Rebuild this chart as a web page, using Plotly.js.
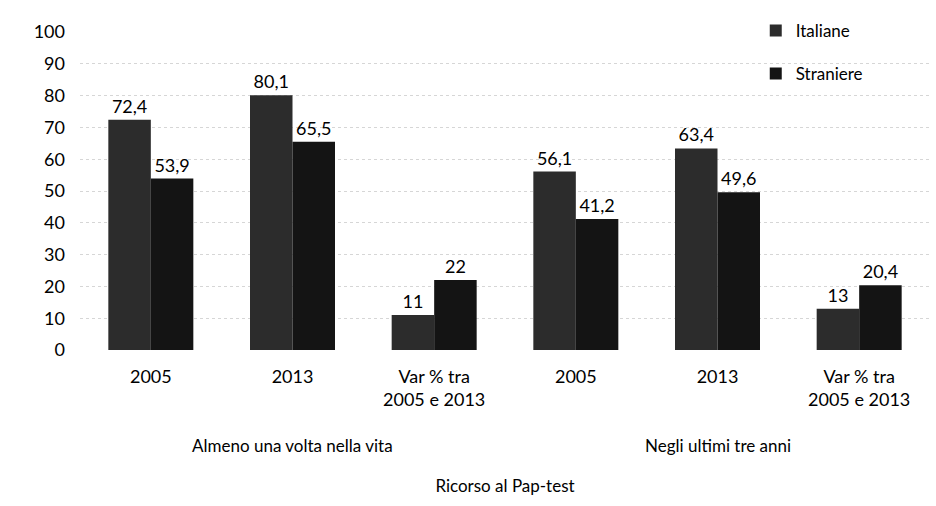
<!DOCTYPE html>
<html>
<head>
<meta charset="utf-8">
<script src="https://cdn.plot.ly/plotly-3.0.1.min.js"></script>
<style>html,body{margin:0;padding:0;background:#fff;}#chart{width:936px;height:506px;}</style>
</head>
<body>
<div id="chart"></div>
<script>
const groupNames = ["Almeno una volta nella vita", "Negli ultimi tre anni"];
const groupOf = [0, 0, 0, 1, 1, 1];
const subcats = ["2005","2013","Var % tra<br>2005 e 2013","2005","2013","Var % tra<br>2005 e 2013"];
const italiane = [72.4, 80.1, 11, 56.1, 63.4, 13];
const straniere = [53.9, 65.5, 22, 41.2, 49.6, 20.4];
const yTicks = [0,10,20,30,40,50,60,70,80,90,100];
const axisTitle = "Ricorso al Pap-test";

const fmt = v => String(v).replace('.', ',');
const font = "Lato, 'Open Sans', sans-serif";
const pos = subcats.map((_, i) => i);

const traces = [
  {name:"Italiane", values:italiane, color:"#2c2c2c"},
  {name:"Straniere", values:straniere, color:"#141414"}
].map((s,i) => ({
  type:"bar",
  name:s.name,
  legendgroup:"g"+i,
  x:pos,
  y:s.values,
  text:s.values.map(fmt),
  textposition:"outside",
  cliponaxis:false,
  textfont:{family:font, size:18, color:"#000"},
  marker:{color:s.color, line:{width:0}},
  hoverinfo:"skip"
}));

const groupAnnotations = groupNames.map((g, gi) => {
  const idx = pos.filter(i => groupOf[i] === gi);
  const mid = idx.reduce((a,b) => a+b, 0) / idx.length;
  return {text:g, x:mid, xref:"x", y:-0.30, yref:"paper", yanchor:"middle",
          showarrow:false, font:{family:font, size:17, color:"#000"}};
});

const layout = {
  width:936, height:506,
  margin:{l:80, r:6, t:32, b:156},
  paper_bgcolor:"#fff", plot_bgcolor:"#fff",
  font:{family:font, size:18, color:"#000"},
  barmode:"group",
  bargap:0.4,
  bargroupgap:0,
  showlegend:true,
  legend:{x:0.795, y:1.06, xanchor:"left", yanchor:"top", orientation:"v",
          font:{family:font, size:17, color:"#000"}, tracegroupgap:18,
          itemwidth:30, bgcolor:"rgba(0,0,0,0)"},
  xaxis:{range:[-0.5, subcats.length - 0.5], tickvals:pos, ticktext:subcats,
         showline:false, ticks:"", zeroline:false, automargin:false,
         showgrid:false, ticklabelstandoff:14, tickfont:{family:font, size:18, color:"#000"},
         title:{text:axisTitle, font:{family:font, size:17, color:"#000"}, standoff:70}},
  yaxis:{range:[0,100], tickvals:yTicks, ticktext:yTicks.map(String),
         showgrid:true, gridcolor:"#d6d6d6", griddash:"dot", gridwidth:1,
         zeroline:false, showline:false, ticks:"", ticklabelstandoff:14,
         tickfont:{family:font, size:18, color:"#000"}},
  annotations:groupAnnotations
};

Plotly.newPlot("chart", traces, layout, {displayModeBar:false, staticPlot:true});
</script>
</body>
</html>
